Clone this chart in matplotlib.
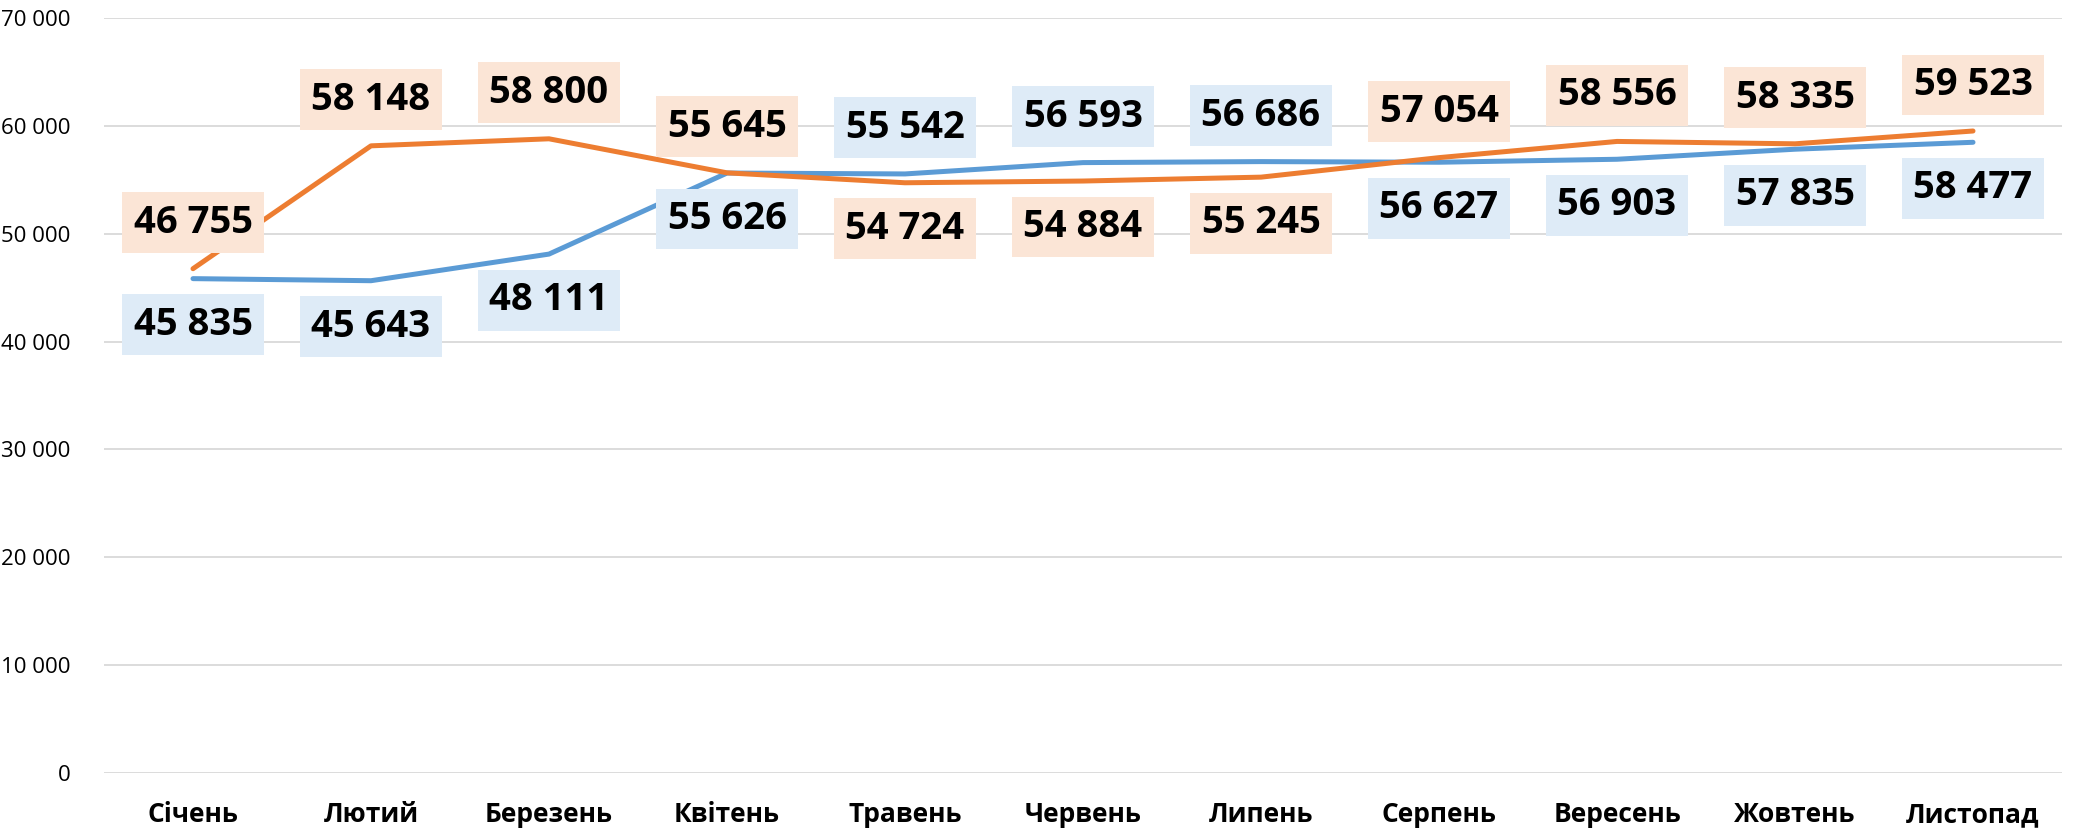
import matplotlib
matplotlib.use("Agg")
import matplotlib.pyplot as plt
from matplotlib.ticker import FuncFormatter, MultipleLocator

months = ["Січень", "Лютий", "Березень", "Квітень", "Травень", "Червень",
          "Липень", "Серпень", "Вересень", "Жовтень", "Листопад"]
series_orange = [46755, 58148, 58800, 55645, 54724, 54884, 55245, 57054, 58556, 58335, 59523]
series_blue = [45835, 45643, 48111, 55626, 55542, 56593, 56686, 56627, 56903, 57835, 58477]

ORANGE = "#ED7D31"
BLUE = "#5B9BD5"
ORANGE_BG = "#FBE5D6"
BLUE_BG = "#DEEBF7"

plt.rcParams['font.family'] = ['Open Sans', 'DejaVu Sans']

W, H = 2083, 832
fig = plt.figure(figsize=(W / 100, H / 100), dpi=100)
ax = fig.add_axes([104 / W, 1 - 773 / H, (2062 - 104) / W, (773 - 18) / H])

x = list(range(len(months)))
ax.plot(x, series_blue, color=BLUE, lw=3.6, solid_capstyle='round', zorder=3)
ax.plot(x, series_orange, color=ORANGE, lw=3.6, solid_capstyle='round', zorder=3)

def fmt(v):
    return f"{int(v):,}".replace(",", " ")

for i in x:
    o, b = series_orange[i], series_blue[i]
    for val, other, bg in ((o, b, ORANGE_BG), (b, o, BLUE_BG)):
        dy = 46 if val >= other else -46
        ax.annotate(fmt(val), (i, val), xytext=(0, dy), textcoords='offset pixels',
                    ha='center', va='center', fontsize=27.5, fontweight='bold', color='black',
                    bbox=dict(boxstyle='square,pad=0.3', fc=bg, ec='none'), zorder=5)

ax.set_xlim(-0.5, len(months) - 0.5)
ax.set_ylim(0, 70000)
ax.yaxis.set_major_locator(MultipleLocator(10000))
ax.yaxis.set_major_formatter(FuncFormatter(lambda v, p: fmt(v)))
ax.set_xticks(x)
ax.set_xticklabels(months, fontsize=19, fontweight='bold')
ax.tick_params(axis='y', labelsize=16, length=0, pad=24)
ax.tick_params(axis='x', length=0, pad=20)
ax.grid(axis='y', color='#D9D9D9', lw=1.3)
ax.set_axisbelow(True)
for s in ax.spines.values():
    s.set_visible(False)

fig.savefig("out.png", dpi=100, facecolor='white')
